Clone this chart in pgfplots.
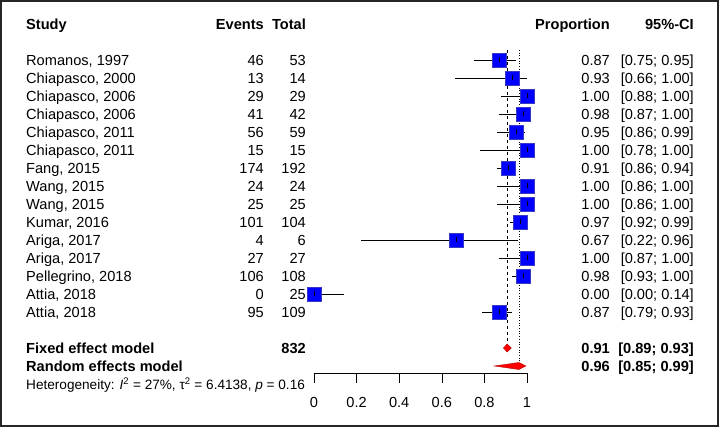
\documentclass[border=0pt]{standalone}
\usepackage{fontspec}
\setmainfont{Liberation Sans}
\usepackage{pgfplots}
\usepackage{pgfplotstable}
\pgfplotsset{compat=1.18}

\pgfplotstableread{
y v lo hi
60 0.87 0.75 0.95
78 0.93 0.66 1.00
96 1.00 0.88 1.00
114 0.98 0.87 1.00
132 0.95 0.86 0.99
150 1.00 0.78 1.00
168 0.91 0.86 0.94
186 1.00 0.86 1.00
204 1.00 0.86 1.00
222 0.97 0.92 0.99
240 0.67 0.22 0.96
258 1.00 0.87 1.00
276 0.98 0.93 1.00
294 0.00 0.00 0.14
312 0.87 0.79 0.93
}\studies

\newcommand{\mf}{\fontsize{14.6}{17}\selectfont}
\newcommand{\hf}{\fontsize{13.6}{16}\selectfont}

\begin{document}
\begin{tikzpicture}
\useasboundingbox (0,0) rectangle (719pt,427pt);
\begin{axis}[
  at={(0,0)}, anchor=south west,
  width=719pt, height=427pt, scale only axis,
  xmin=-1.4742, xmax=1.9014, ymin=0, ymax=427,
  y dir=reverse, hide axis, clip=false]
% reference lines
\addplot[black, dashed, line width=0.6pt] coordinates {(0.907,50) (0.907,344)};
\addplot[black, dotted, line width=0.7pt] coordinates {(0.962,50) (0.962,362)};
% squares
\addplot[only marks, mark=square*, mark size=7pt,
  mark options={fill=blue, draw=blue!55!gray, line width=0.5pt}]
  table[x=v, y=y] {\studies};
% confidence intervals
\addplot[only marks, mark=|, mark size=2.5pt, mark options={black, line width=0.45pt},
  error bars/.cd, x dir=both, x explicit, error mark=none,
  error bar style={black, line width=0.65pt}]
  table[x=v, y=y, x error minus expr=\thisrow{v}-\thisrow{lo},
        x error plus expr=\thisrow{hi}-\thisrow{v}] {\studies};
% diamonds
\addplot[fill=red, draw=red!70!black, line width=0.4pt] coordinates
  {(0.889,348) (0.907,344) (0.926,348) (0.907,352)} -- cycle;
\addplot[fill=red, draw=red!70!black, line width=0.4pt] coordinates
  {(0.846,366) (0.962,362.5) (0.995,366) (0.962,369.5)} -- cycle;
% x axis
\addplot[black, line width=0.6pt] coordinates {(0,373) (1,373)};
\foreach \t in {0,0.2,0.4,0.6,0.8,1}{
  \edef\tmp{\noexpand\draw[black, line width=0.6pt] (axis cs:\t,373) -- (axis cs:\t,382.5);}\tmp
  \edef\tmp{\noexpand\node[anchor=base, inner sep=0pt, font=\noexpand\mf] at (axis cs:\t,407.3) {\t};}\tmp
}
\end{axis}

\begin{scope}[shift={(0pt,427pt)}, x=1pt, y=-1pt]
\draw[black!85, line width=1.6pt] (0.8,0.8) rectangle (718.2,426.2);
\tikzset{every node/.style={inner sep=0pt, font=\mf}}
% headers
\node[anchor=base west] at (26,30) {\bfseries Study};
\node[anchor=base east] at (264,30) {\bfseries Events};
\node[anchor=base east] at (306,30) {\bfseries Total};
\node[anchor=base east] at (610,30) {\bfseries Proportion};
\node[anchor=base east] at (694,30) {\bfseries 95\%-CI};
\foreach \i/\s/\e/\n/\p/\c in {
 0/{Romanos, 1997}/46/53/0.87/{[0.75; 0.95]},
 1/{Chiapasco, 2000}/13/14/0.93/{[0.66; 1.00]},
 2/{Chiapasco, 2006}/29/29/1.00/{[0.88; 1.00]},
 3/{Chiapasco, 2006}/41/42/0.98/{[0.87; 1.00]},
 4/{Chiapasco, 2011}/56/59/0.95/{[0.86; 0.99]},
 5/{Chiapasco, 2011}/15/15/1.00/{[0.78; 1.00]},
 6/{Fang, 2015}/174/192/0.91/{[0.86; 0.94]},
 7/{Wang, 2015}/24/24/1.00/{[0.86; 1.00]},
 8/{Wang, 2015}/25/25/1.00/{[0.86; 1.00]},
 9/{Kumar, 2016}/101/104/0.97/{[0.92; 0.99]},
 10/{Ariga, 2017}/4/6/0.67/{[0.22; 0.96]},
 11/{Ariga, 2017}/27/27/1.00/{[0.87; 1.00]},
 12/{Pellegrino, 2018}/106/108/0.98/{[0.93; 1.00]},
 13/{Attia, 2018}/0/25/0.00/{[0.00; 0.14]},
 14/{Attia, 2018}/95/109/0.87/{[0.79; 0.93]}}{
  \pgfmathsetmacro\yb{66+18*\i}
  \node[anchor=base west] at (26,\yb) {\s};
  \node[anchor=base east] at (264,\yb) {\e};
  \node[anchor=base east] at (306,\yb) {\n};
  \node[anchor=base east] at (610,\yb) {\p};
  \node[anchor=base east] at (694,\yb) {\c};
}
\node[anchor=base west] at (26,354) {\bfseries Fixed effect model};
\node[anchor=base east] at (306,354) {\bfseries 832};
\node[anchor=base east] at (610,354) {\bfseries 0.91};
\node[anchor=base east] at (694,354) {\bfseries [0.89; 0.93]};
\node[anchor=base west] at (26,372) {\bfseries Random effects model};
\node[anchor=base east] at (610,372) {\bfseries 0.96};
\node[anchor=base east] at (694,372) {\bfseries [0.85; 0.99]};
\node[anchor=base west, font=\hf] at (26,390) {Heterogeneity: \textit{I}\textsuperscript{2} = 27\%, τ\textsuperscript{2} = 6.4138, \textit{p} = 0.16};
\end{scope}
\end{tikzpicture}
\end{document}
